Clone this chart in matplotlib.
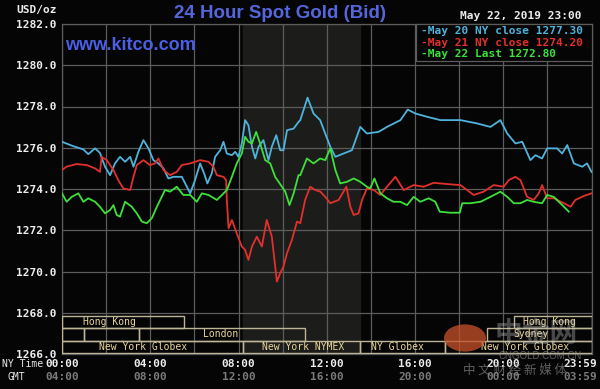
import matplotlib
matplotlib.use("Agg")
import matplotlib.pyplot as plt
from matplotlib.patches import Rectangle, Circle

# ---------------- data ----------------
blue_h = [0, 0.5, 0.97, 1.19, 1.5, 1.72, 1.95, 2.18, 2.4, 2.63, 2.86, 3.09, 3.24, 3.46, 3.69, 3.92,
          4.14, 4.37, 4.6, 4.82, 5.05, 5.43, 5.66, 5.81, 6.03, 6.26, 6.44, 6.59, 6.79, 6.94, 7.17,
          7.32, 7.47, 7.70, 7.85, 8.0, 8.15, 8.30, 8.45, 8.61, 8.76, 8.91, 9.13, 9.36, 9.51, 9.71,
          9.89, 10.04, 10.2, 10.5, 10.72, 10.8, 11.13, 11.4, 11.7, 11.93, 12.16, 12.39, 12.76, 13.14,
          13.52, 13.82, 14.35, 14.73, 15.34, 15.67, 16.02, 16.55, 17.15, 18.06, 18.81, 19.42, 19.87,
          20.18, 20.55, 20.86, 21.23, 21.46, 21.76, 21.99, 22.44, 22.67, 22.9, 23.2, 23.58, 23.8, 24.0]
blue_v = [1276.29, 1276.08, 1275.92, 1275.69, 1275.97, 1275.75, 1275.08, 1274.67, 1275.24, 1275.56,
          1275.32, 1275.56, 1275.08, 1275.80, 1276.37, 1275.97, 1275.40, 1275.24, 1275.00, 1274.51,
          1274.59, 1274.59, 1274.11, 1273.79, 1274.43, 1275.24, 1274.76, 1274.27, 1274.76, 1275.56,
          1275.88, 1276.29, 1275.72, 1275.64, 1275.80, 1275.56, 1276.21, 1277.34, 1277.09, 1276.05,
          1275.48, 1276.05, 1276.37, 1275.40, 1276.05, 1276.61, 1275.88, 1275.88, 1276.85, 1276.93,
          1277.25, 1277.34, 1278.43, 1277.66, 1277.34, 1276.69, 1276.05, 1275.56, 1275.72, 1275.88,
          1277.01, 1276.69, 1276.77, 1277.01, 1277.34, 1277.85, 1277.66, 1277.50, 1277.34, 1277.34,
          1277.18, 1277.01, 1277.34, 1276.69, 1276.21, 1276.29, 1275.40, 1275.64, 1275.48, 1275.97,
          1275.97, 1275.72, 1276.13, 1275.24, 1275.08, 1275.24, 1274.83]

red_h = [0, 0.2, 0.66, 1.12, 1.5, 1.72, 1.8, 2.03, 2.33, 2.55, 2.78, 3.09, 3.24, 3.39, 3.69, 3.99,
         4.22, 4.37, 4.6, 4.9, 5.2, 5.43, 5.81, 6.26, 6.64, 6.86, 7.02, 7.32, 7.44, 7.47, 7.55, 7.70,
         7.92, 8.15, 8.30, 8.45, 8.61, 8.83, 9.06, 9.28, 9.51, 9.74, 9.89, 10.04, 10.2, 10.42, 10.65,
         10.8, 11.02, 11.25, 11.48, 11.71, 11.93, 12.16, 12.54, 12.89, 13.07, 13.22, 13.44, 13.6,
         13.82, 14.13, 14.43, 14.73, 15.11, 15.49, 15.94, 16.39, 16.85, 17.45, 18.06, 18.66, 19.11,
         19.57, 20.02, 20.25, 20.55, 20.78, 21.08, 21.38, 21.61, 21.76, 21.99, 22.29, 22.75, 23.05,
         23.27, 23.65, 24.0]
red_v = [1274.92, 1275.08, 1275.21, 1275.16, 1275.00, 1274.83, 1275.56, 1275.40, 1274.92, 1274.43,
         1274.03, 1273.95, 1274.59, 1275.16, 1275.40, 1275.16, 1275.24, 1275.48, 1274.92, 1274.67,
         1274.83, 1275.16, 1275.24, 1275.40, 1275.32, 1275.08, 1274.67, 1274.59, 1274.43, 1273.46,
         1272.10, 1272.50, 1271.85, 1271.21, 1271.05, 1270.56, 1271.21, 1271.69, 1271.21, 1272.50,
         1271.69, 1269.51, 1269.92, 1270.24, 1270.89, 1271.53, 1272.42, 1272.34, 1273.47, 1274.11,
         1273.95, 1273.87, 1273.62, 1273.31, 1273.47, 1274.11, 1273.14, 1272.74, 1272.82, 1273.47,
         1274.03, 1273.95, 1273.71, 1274.11, 1274.59, 1273.95, 1274.19, 1274.11, 1274.30, 1274.24,
         1274.19, 1273.71, 1273.87, 1274.19, 1274.11, 1274.43, 1274.59, 1274.43, 1273.62, 1273.47,
         1273.79, 1274.19, 1273.55, 1273.55, 1273.31, 1273.14, 1273.47, 1273.66, 1273.79]

green_h = [0, 0.21, 0.44, 0.74, 0.97, 1.19, 1.5, 1.72, 1.95, 2.18, 2.33, 2.48, 2.63, 2.86, 3.16,
           3.39, 3.62, 3.84, 4.07, 4.3, 4.52, 4.67, 4.9, 5.2, 5.5, 5.81, 6.11, 6.34, 6.64, 7.02,
           7.25, 7.47, 7.7, 7.92, 8.15, 8.3, 8.45, 8.61, 8.8, 8.98, 9.21, 9.44, 9.66, 9.97, 10.12,
           10.31, 10.5, 10.72, 10.8, 11.1, 11.4, 11.7, 11.93, 12.16, 12.39, 12.61, 12.92, 13.22,
           13.52, 13.82, 13.97, 14.16, 14.43, 14.73, 15.03, 15.34, 15.64, 15.94, 16.24, 16.62,
           16.92, 17.12, 17.6, 18.03, 18.14, 18.51, 18.97, 19.42, 19.87, 20.18, 20.48, 20.78,
           21.08, 21.38, 21.76, 21.99, 22.29, 22.52, 22.75, 22.97]
green_v = [1273.79, 1273.38, 1273.62, 1273.79, 1273.38, 1273.55, 1273.38, 1273.14, 1272.82, 1272.98,
           1273.22, 1272.74, 1272.66, 1273.38, 1273.14, 1272.82, 1272.42, 1272.34, 1272.58, 1273.14,
           1273.62, 1273.95, 1273.87, 1274.11, 1273.71, 1273.71, 1273.38, 1273.79, 1273.71, 1273.47,
           1273.71, 1273.95, 1274.59, 1275.24, 1275.72, 1276.53, 1276.29, 1276.21, 1276.77, 1276.21,
           1275.40, 1275.24, 1274.59, 1274.11, 1273.87, 1273.22, 1273.79, 1274.67, 1274.67, 1275.48,
           1275.24, 1275.48, 1275.40, 1275.97, 1274.92, 1274.27, 1274.35, 1274.51, 1274.35, 1274.11,
           1274.03, 1274.51, 1273.79, 1273.55, 1273.38, 1273.38, 1273.22, 1273.62, 1273.38, 1273.55,
           1273.38, 1272.90, 1272.85, 1272.85, 1273.31, 1273.31, 1273.38, 1273.62, 1273.87, 1273.62,
           1273.31, 1273.31, 1273.47, 1273.38, 1273.31, 1273.71, 1273.62, 1273.38, 1273.14, 1272.90]

legend_labels = ["-May 20 NY close 1277.30", "-May 21 NY close 1274.20", "-May 22 Last 1272.80"]

y_ticks = [1266, 1268, 1270, 1272, 1274, 1276, 1278, 1280, 1282]
ny_hours = [0, 4, 8, 12, 16, 20, 23.5]
ny_labels = ["00:00", "04:00", "08:00", "12:00", "16:00", "20:00", "23:59"]
gmt_labels = ["04:00", "08:00", "12:00", "16:00", "20:00", "00:00", "03:59"]

# sessions: (row, start, end, label, label_x)
sess_row = [0, 0, 1, 1, 1, 1, 2, 2, 2, 2]
sess_start = [0, 20.5, 0, 1.0, 3.5, 19.25, 0, 8.2, 13.5, 17.35]
sess_end = [5.55, 24, 1.0, 3.5, 11.0, 24, 8.2, 13.5, 17.35, 24]
sess_label = ["Hong Kong", "Hong Kong", "", "", "London", "Sydney",
              "New York Globex", "New York NYMEX", "NY Globex", "New York Globex"]
sess_label_x = [2.13, 22.1, 0, 0, 7.2, 21.26, 3.68, 10.93, 15.22, 21.0]

nymex_start, nymex_end = 8.2, 13.5

# ---------------- figure ----------------
BG = "#050505"
GRID = "#5c5c5c"
BLUE = "#4fb3dc"
RED = "#e2302c"
GREEN = "#3ee03a"
TXT = "#ececec"
MONO = "DejaVu Sans Mono"

fig = plt.figure(figsize=(6.0, 3.89), dpi=100, facecolor=BG)
ax = fig.add_axes([62 / 600, 1 - 354 / 389, (591.5 - 62) / 600, (354 - 24) / 389], facecolor=BG)
ax.set_xlim(0, 24)
ax.set_ylim(1266, 1282)

ax.axvspan(nymex_start, nymex_end, color="#1c1c1a", zorder=0)

ax.set_xticks(range(0, 25, 2))
ax.set_yticks(y_ticks)
ax.grid(True, color=GRID, lw=0.9, zorder=1)
ax.set_yticklabels([f"{v:.1f}" for v in y_ticks], family=MONO, fontweight="bold",
                   fontsize=8, color=TXT)
ax.tick_params(axis="y", length=0, pad=4)
ax.tick_params(axis="x", length=0, labelbottom=False)
for s in ax.spines.values():
    s.set_color(GRID)
    s.set_linewidth(0.9)

ax.plot(blue_h, blue_v, color=BLUE, lw=1.3, zorder=3)
ax.plot(red_h, red_v, color=RED, lw=1.3, zorder=3)
ax.plot(green_h, green_v, color=GREEN, lw=1.3, zorder=4)

# session boxes
row_bottom = [1267.26, 1266.65, 1266.05]
row_height = 0.6
for r, s0, s1, lab, lx in zip(sess_row, sess_start, sess_end, sess_label, sess_label_x):
    ax.add_patch(Rectangle((s0, row_bottom[r]), s1 - s0, row_height, fill=False,
                           edgecolor="#bdb596", lw=1.0, zorder=5))
    if lab:
        ax.text(lx, row_bottom[r] + row_height / 2, lab, ha="center", va="center",
                family=MONO, fontsize=7, color="#e8d69a", zorder=6)

# legend box
lx0, lx1 = 415.5, 591.5
ly0, ly1 = 24, 61
fig.patches.append(Rectangle((lx0 / 600, 1 - ly1 / 389), (lx1 - lx0) / 600, (ly1 - ly0) / 389,
                             transform=fig.transFigure, facecolor=BG, edgecolor=GRID, lw=0.9,
                             zorder=10))
for i, (lab, c) in enumerate(zip(legend_labels, [BLUE, RED, GREEN])):
    fig.text(421 / 600, 1 - (31 + 11.5 * i) / 389, lab, ha="left", va="center", family=MONO,
             fontweight="bold", fontsize=8, color=c, zorder=11)

# header texts
fig.text(57 / 600, 1 - 10 / 389, "USD/oz", ha="right", va="center", family=MONO,
         fontweight="bold", fontsize=8, color=TXT)
fig.text(280 / 600, 1 - 13 / 389, "24 Hour Spot Gold (Bid)", ha="center", va="center",
         family="Liberation Sans", fontweight="bold", fontsize=13.5, color="#5566dd")
fig.text(65 / 600, 1 - 45 / 389, "www.kitco.com", ha="left", va="center",
         family="Liberation Sans", fontweight="bold", fontsize=13, color="#4a5ee6", zorder=12)
fig.text(582 / 600, 1 - 16 / 389, "May 22, 2019 23:00", ha="right", va="center", family=MONO,
         fontweight="bold", fontsize=8, color=TXT)

# time axis labels
fig.text(2 / 600, 1 - 364 / 389, "NY Time", ha="left", va="center", family=MONO,
         fontsize=7, color=TXT)
fig.text(8 / 600, 1 - 377 / 389, "GMT", ha="left", va="center", family=MONO,
         fontsize=7, color=TXT)
for h, a, b in zip(ny_hours, ny_labels, gmt_labels):
    ax.annotate(a, xy=(h, 0), xycoords=("data", "axes fraction"), xytext=(0, -10),
                textcoords="offset pixels", ha="center", va="center", family=MONO,
                fontweight="bold", fontsize=8, color=TXT, annotation_clip=False)
    ax.annotate(b, xy=(h, 0), xycoords=("data", "axes fraction"), xytext=(0, -23),
                textcoords="offset pixels", ha="center", va="center", family=MONO,
                fontweight="bold", fontsize=8, color="#7a7a7a", annotation_clip=False)

# watermark
fig.patches.append(Circle((465 / 600, 1 - 338 / 389), 21 / 600, transform=fig.transFigure,
                          facecolor="#c9502a", alpha=0.75, edgecolor="none", zorder=13))
fig.text(536 / 600, 1 - 334 / 389, "中金网", ha="center", va="center",
         family="Noto Sans CJK SC", fontweight="bold", fontsize=20, color="#c8c8c8",
         alpha=0.35, zorder=13)
fig.text(540 / 600, 1 - 356 / 389, "CNGOLD.COM.CN", ha="center", va="center",
         family="Liberation Sans", fontsize=7, color="#9a9a9a", alpha=0.6, zorder=13)
fig.text(515 / 600, 1 - 370 / 389, "中 文 财 经 新 媒 体", ha="center", va="center",
         family="Noto Sans CJK SC", fontsize=9, color="#9a9a9a", alpha=0.6, zorder=13)

fig.savefig("out.png", dpi=100, facecolor=BG)
